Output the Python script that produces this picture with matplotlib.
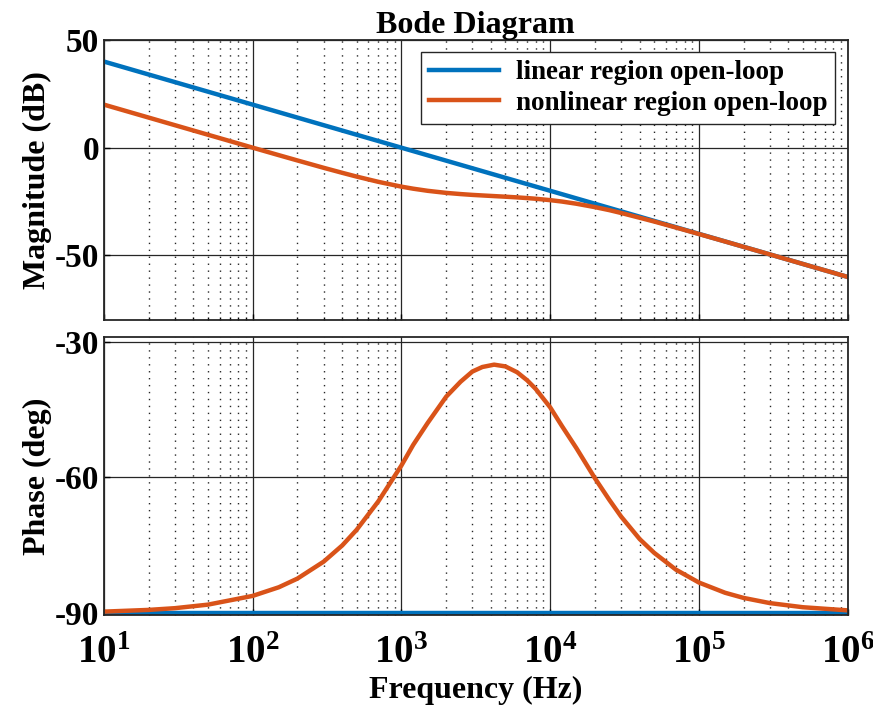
import numpy as np
import matplotlib.pyplot as plt
from matplotlib.ticker import LogLocator, NullFormatter

# =============================================
#                 DATOS
# =============================================
freq = [10, 20, 30, 50, 100, 150, 200, 300, 400, 500, 700, 1000, 1200,
        1500, 2000, 2500, 3000, 3500, 4200, 5000, 6000, 7000, 8000, 10000,
        12000, 15000, 20000, 25000, 30000, 40000, 50000, 70000, 100000,
        150000, 200000, 300000, 500000, 1000000]

mag_lin = [40.0, 33.98, 30.46, 26.02, 20.0, 16.48, 13.98, 10.46, 7.96,
           6.02, 3.10, 0.0, -1.58, -3.52, -6.02, -7.96, -9.54, -10.88,
           -12.46, -13.98, -15.56, -16.90, -18.06, -20.0, -21.58, -23.52,
           -26.02, -27.96, -29.54, -32.04, -33.98, -36.90, -40.0, -43.52,
           -46.02, -49.54, -53.98, -60.0]
mag_nl = [20.0, 13.98, 10.46, 6.03, 0.02, -3.47, -5.92, -9.33, -11.66,
          -13.41, -15.85, -18.08, -19.03, -20.01, -20.98, -21.53, -21.91,
          -22.17, -22.47, -22.75, -23.07, -23.39, -23.70, -24.35, -25.00,
          -26.01, -27.59, -28.99, -30.31, -32.53, -34.27, -37.05, -40.08,
          -43.55, -46.04, -49.55, -53.99, -60.0]

ph_lin = [-90.0] * len(freq)
ph_nl = [-89.60, -89.22, -88.84, -88.06, -86.13, -84.22, -82.31, -78.58,
         -75.00, -71.55, -65.25, -57.36, -52.81, -47.99, -42.17, -38.86,
         -36.62, -35.62, -35.10, -35.49, -36.78, -38.55, -40.47, -44.52,
         -48.65, -53.51, -60.18, -64.95, -68.63, -73.60, -76.62, -80.33,
         -83.18, -85.44, -86.58, -87.72, -88.63, -89.32]

xticks = [1e1, 1e2, 1e3, 1e4, 1e5, 1e6]
xticklabels = [r'$\mathbf{10^{%d}}$' % k for k in range(1, 7)]

azul = '#0072BD'
naranja = '#D95319'

# =============================================
#                 GRAFICA
# =============================================
plt.rcParams['font.family'] = 'Liberation Serif'
plt.rcParams['font.weight'] = 'bold'
plt.rcParams['axes.unicode_minus'] = False
plt.rcParams['mathtext.fontset'] = 'custom'
plt.rcParams['mathtext.rm'] = 'Liberation Serif:bold'
plt.rcParams['mathtext.bf'] = 'Liberation Serif:bold'

fig = plt.figure(figsize=(8.73, 7.08), dpi=100)
ax1 = fig.add_axes([0.119, 0.548, 0.852, 0.3955])
ax2 = fig.add_axes([0.119, 0.131, 0.852, 0.393])

for ax in (ax1, ax2):
    ax.set_xscale('log')
    ax.set_xlim(10, 1e6)
    ax.xaxis.set_minor_locator(LogLocator(base=10, subs=np.arange(2, 10), numticks=20))
    ax.xaxis.set_minor_formatter(NullFormatter())
    ax.set_xticks(xticks)
    ax.grid(True, which='major', color='#262626', linestyle='-', linewidth=0.9)
    ax.grid(True, which='minor', axis='x', color='#262626', linestyle=(0, (1, 4)), linewidth=1.0)
    ax.tick_params(direction='in', which='both', labelsize=24, length=4, width=1)
    ax.tick_params(which='minor', length=2)
    for s in ax.spines.values():
        s.set_linewidth(1.3)
        s.set_color('#262626')
    ax.set_axisbelow(True)

ax1.plot(freq, mag_lin, color=azul, linewidth=3.2, label='linear region open-loop')
ax1.plot(freq, mag_nl, color=naranja, linewidth=3.2, label='nonlinear region open-loop')
ax1.set_ylim(-80, 50)
ax1.set_yticks([-50, 0, 50])
ax1.set_xticklabels([])
ax1.set_ylabel('Magnitude (dB)', fontsize=23, fontweight='bold', labelpad=2)
ax1.set_title('Bode Diagram', fontsize=23, fontweight='bold', pad=4)
leg = ax1.legend(loc='upper right', fontsize=19.5, frameon=True, fancybox=False,
                 edgecolor='#262626', framealpha=1, handlelength=2.6,
                 borderaxespad=0.45, labelspacing=0.2, borderpad=0.3,
                 handletextpad=0.6)
leg.get_frame().set_linewidth(1.0)

ax2.plot(freq, ph_lin, color=azul, linewidth=3.2)
ax2.plot(freq, ph_nl, color=naranja, linewidth=3.2)
ax2.set_ylim(-90.4, -29)
ax2.set_yticks([-90, -60, -30])
ax2.set_xticklabels(xticklabels)
ax2.tick_params(axis='x', labelsize=28, pad=14)
ax2.set_ylabel('Phase (deg)', fontsize=23, fontweight='bold', labelpad=2)
ax2.set_xlabel('Frequency (Hz)', fontsize=23, fontweight='bold', labelpad=3)
fig.align_ylabels([ax1, ax2])

plt.savefig('out.png', dpi=100)
